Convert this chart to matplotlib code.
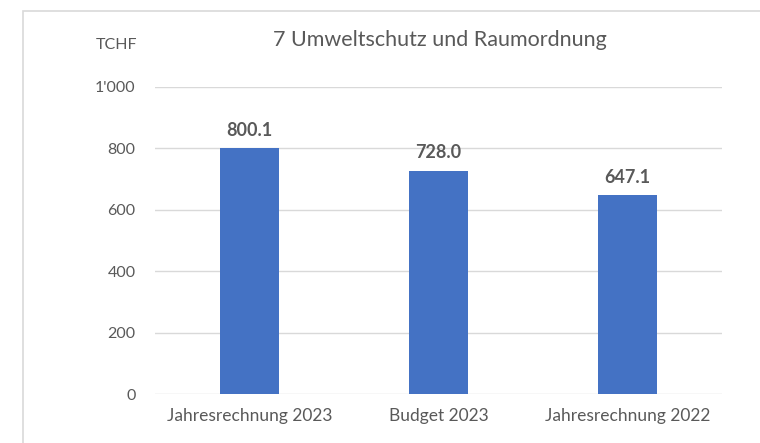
import matplotlib.pyplot as plt
from matplotlib.patches import Rectangle
from matplotlib.ticker import FuncFormatter

# data
categories = ["Jahresrechnung 2023", "Budget 2023", "Jahresrechnung 2022"]
values = [800.1, 728.0, 647.1]
yticks = [0, 200, 400, 600, 800, 1000]

plt.rcParams['font.family'] = ['Lato', 'DejaVu Sans']
text_col = '#595959'
grid_col = '#D9D9D9'

fig = plt.figure(figsize=(7.6, 4.43), dpi=100)
ax = fig.add_axes([155 / 760, 1 - 394 / 443, 567 / 760, 307 / 443])

x = range(len(categories))
bars = ax.bar(x, values, width=0.317, color='#4472C4', zorder=3)

# value labels
for b, v in zip(bars, values):
    ax.annotate(f"{v:.1f}", (b.get_x() + b.get_width() / 2, v),
                xytext=(0, 7), textcoords='offset points', ha='center', va='bottom',
                fontsize=13, fontweight='bold', color=text_col)

ax.set_xlim(-0.5, 2.5)
ax.set_ylim(0, 1000)
ax.set_yticks(yticks)
ax.yaxis.set_major_formatter(FuncFormatter(lambda v, p: f"{int(v):,}".replace(",", "'")))
ax.set_xticks(list(x))
ax.set_xticklabels(categories)
ax.tick_params(length=0, labelcolor=text_col)
ax.tick_params(axis='y', pad=14, labelsize=11.5)
ax.tick_params(axis='x', pad=10, labelsize=12.5)
ax.grid(axis='y', color=grid_col, linewidth=1, zorder=0)
for s in ax.spines.values():
    s.set_visible(False)

fig.text(440 / 760, 1 - 40 / 443, "7 Umweltschutz und Raumordnung", ha='center', va='center',
         fontsize=15.5, color=text_col)
fig.text(116 / 760, 1 - 45 / 443, "TCHF", ha='center', va='center', fontsize=11.5, color=text_col)

# chart frame (cropped at right and bottom)
fig.add_artist(Rectangle((22.5 / 760, -0.1), 1.2, 1 - 11.5 / 443 + 0.1, transform=fig.transFigure,
                         fill=False, edgecolor=grid_col, linewidth=1.2))

fig.savefig("out.png", dpi=100)
